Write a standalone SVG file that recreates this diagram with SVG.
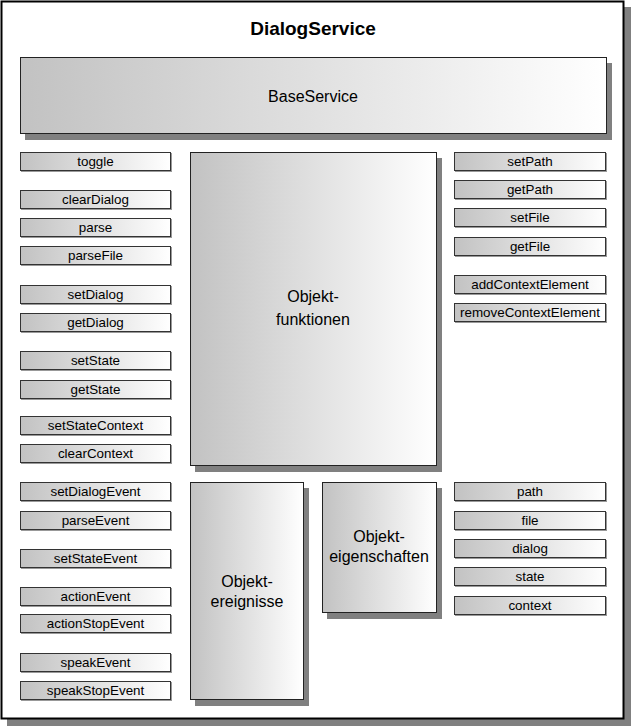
<svg xmlns="http://www.w3.org/2000/svg" width="632" height="726" viewBox="0 0 632 726">
<defs>
<linearGradient id="g" x1="0" y1="0" x2="1" y2="0">
<stop offset="0" stop-color="#c2c2c2"/>
<stop offset="1" stop-color="#ffffff"/>
</linearGradient>
</defs>
<style>
.t{font-family:"Liberation Sans",Arial,sans-serif;fill:#000;text-anchor:middle;dominant-baseline:central}
.s{font-size:13.4px}
.b{font-size:16px}
.sh{fill:#808080}
.box{fill:url(#g);stroke:#222;stroke-width:1}
.bs{fill:#999}
.btn{fill:url(#g);stroke:#333;stroke-width:1}
</style>
<g id="frame">
<rect class="sh" x="7" y="7" width="624" height="719"/>
<rect x="1.5" y="1.5" width="622" height="717" fill="#fff" stroke="#000" stroke-width="2"/>
<text class="t" x="313" y="28" style="font-size:19px;font-weight:bold">DialogService</text>
</g>
<g id="BaseService">
<rect class="sh" x="25" y="63" width="587" height="77"/>
<rect class="box" x="20.5" y="57.5" width="586" height="76"/>
<text class="t b" x="313" y="96">BaseService</text>
</g>
<g id="Objektfunktionen">
<rect class="sh" x="195" y="158" width="247" height="314"/>
<rect class="box" x="190.5" y="152.5" width="246" height="313"/>
<text class="t b" x="313" y="296">Objekt-</text>
<text class="t b" x="313" y="319">funktionen</text>
</g>
<g id="Objektereignisse">
<rect class="sh" x="195" y="488" width="114" height="218"/>
<rect class="box" x="190.5" y="482.5" width="113" height="217"/>
<text class="t b" x="247" y="581">Objekt-</text>
<text class="t b" x="247" y="601">ereignisse</text>
</g>
<g id="Objekteigenschaften">
<rect class="sh" x="327" y="488" width="115" height="131"/>
<rect class="box" x="322.5" y="482.5" width="114" height="130"/>
<text class="t b" x="379" y="536">Objekt-</text>
<text class="t b" x="379" y="556">eigenschaften</text>
</g>
<g id="toggle"><rect class="bs" x="21" y="153" width="151" height="19"/><rect class="btn" x="20.5" y="152.5" width="150" height="18"/><text class="t s" x="95.5" y="161.5">toggle</text></g>
<g id="clearDialog"><rect class="bs" x="21" y="191" width="151" height="19"/><rect class="btn" x="20.5" y="190.5" width="150" height="18"/><text class="t s" x="95.5" y="199.5">clearDialog</text></g>
<g id="parse"><rect class="bs" x="21" y="219" width="151" height="19"/><rect class="btn" x="20.5" y="218.5" width="150" height="18"/><text class="t s" x="95.5" y="227.5">parse</text></g>
<g id="parseFile"><rect class="bs" x="21" y="247" width="151" height="19"/><rect class="btn" x="20.5" y="246.5" width="150" height="18"/><text class="t s" x="95.5" y="255.5">parseFile</text></g>
<g id="setDialog"><rect class="bs" x="21" y="286" width="151" height="19"/><rect class="btn" x="20.5" y="285.5" width="150" height="18"/><text class="t s" x="95.5" y="294.5">setDialog</text></g>
<g id="getDialog"><rect class="bs" x="21" y="314" width="151" height="19"/><rect class="btn" x="20.5" y="313.5" width="150" height="18"/><text class="t s" x="95.5" y="322.5">getDialog</text></g>
<g id="setState"><rect class="bs" x="21" y="352" width="151" height="19"/><rect class="btn" x="20.5" y="351.5" width="150" height="18"/><text class="t s" x="95.5" y="360.5">setState</text></g>
<g id="getState"><rect class="bs" x="21" y="381" width="151" height="19"/><rect class="btn" x="20.5" y="380.5" width="150" height="18"/><text class="t s" x="95.5" y="389.5">getState</text></g>
<g id="setStateContext"><rect class="bs" x="21" y="417" width="151" height="19"/><rect class="btn" x="20.5" y="416.5" width="150" height="18"/><text class="t s" x="95.5" y="425.5">setStateContext</text></g>
<g id="clearContext"><rect class="bs" x="21" y="445" width="151" height="19"/><rect class="btn" x="20.5" y="444.5" width="150" height="18"/><text class="t s" x="95.5" y="453.5">clearContext</text></g>
<g id="setDialogEvent"><rect class="bs" x="21" y="483" width="151" height="19"/><rect class="btn" x="20.5" y="482.5" width="150" height="18"/><text class="t s" x="95.5" y="491.5">setDialogEvent</text></g>
<g id="parseEvent"><rect class="bs" x="21" y="512" width="151" height="19"/><rect class="btn" x="20.5" y="511.5" width="150" height="18"/><text class="t s" x="95.5" y="520.5">parseEvent</text></g>
<g id="setStateEvent"><rect class="bs" x="21" y="550" width="151" height="19"/><rect class="btn" x="20.5" y="549.5" width="150" height="18"/><text class="t s" x="95.5" y="558.5">setStateEvent</text></g>
<g id="actionEvent"><rect class="bs" x="21" y="588" width="151" height="19"/><rect class="btn" x="20.5" y="587.5" width="150" height="18"/><text class="t s" x="95.5" y="596.5">actionEvent</text></g>
<g id="actionStopEvent"><rect class="bs" x="21" y="615" width="151" height="19"/><rect class="btn" x="20.5" y="614.5" width="150" height="18"/><text class="t s" x="95.5" y="623.5">actionStopEvent</text></g>
<g id="speakEvent"><rect class="bs" x="21" y="654" width="151" height="19"/><rect class="btn" x="20.5" y="653.5" width="150" height="18"/><text class="t s" x="95.5" y="662.5">speakEvent</text></g>
<g id="speakStopEvent"><rect class="bs" x="21" y="682" width="151" height="19"/><rect class="btn" x="20.5" y="681.5" width="150" height="18"/><text class="t s" x="95.5" y="690.5">speakStopEvent</text></g>
<g id="setPath"><rect class="bs" x="455" y="153" width="152" height="19"/><rect class="btn" x="454.5" y="152.5" width="151" height="18"/><text class="t s" x="530" y="161.5">setPath</text></g>
<g id="getPath"><rect class="bs" x="455" y="181" width="152" height="19"/><rect class="btn" x="454.5" y="180.5" width="151" height="18"/><text class="t s" x="530" y="189.5">getPath</text></g>
<g id="setFile"><rect class="bs" x="455" y="209" width="152" height="19"/><rect class="btn" x="454.5" y="208.5" width="151" height="18"/><text class="t s" x="530" y="217.5">setFile</text></g>
<g id="getFile"><rect class="bs" x="455" y="238" width="152" height="19"/><rect class="btn" x="454.5" y="237.5" width="151" height="18"/><text class="t s" x="530" y="246.5">getFile</text></g>
<g id="addContextElement"><rect class="bs" x="455" y="276" width="152" height="19"/><rect class="btn" x="454.5" y="275.5" width="151" height="18"/><text class="t s" x="530" y="284.5">addContextElement</text></g>
<g id="removeContextElement"><rect class="bs" x="455" y="304" width="152" height="19"/><rect class="btn" x="454.5" y="303.5" width="151" height="18"/><text class="t s" x="530" y="312.5">removeContextElement</text></g>
<g id="path"><rect class="bs" x="455" y="483" width="152" height="19"/><rect class="btn" x="454.5" y="482.5" width="151" height="18"/><text class="t s" x="530" y="491.5">path</text></g>
<g id="file"><rect class="bs" x="455" y="512" width="152" height="19"/><rect class="btn" x="454.5" y="511.5" width="151" height="18"/><text class="t s" x="530" y="520.5">file</text></g>
<g id="dialog"><rect class="bs" x="455" y="540" width="152" height="19"/><rect class="btn" x="454.5" y="539.5" width="151" height="18"/><text class="t s" x="530" y="548.5">dialog</text></g>
<g id="state"><rect class="bs" x="455" y="568" width="152" height="19"/><rect class="btn" x="454.5" y="567.5" width="151" height="18"/><text class="t s" x="530" y="576.5">state</text></g>
<g id="context"><rect class="bs" x="455" y="597" width="152" height="19"/><rect class="btn" x="454.5" y="596.5" width="151" height="18"/><text class="t s" x="530" y="605.5">context</text></g>
<g id="connectors"/>
</svg>
